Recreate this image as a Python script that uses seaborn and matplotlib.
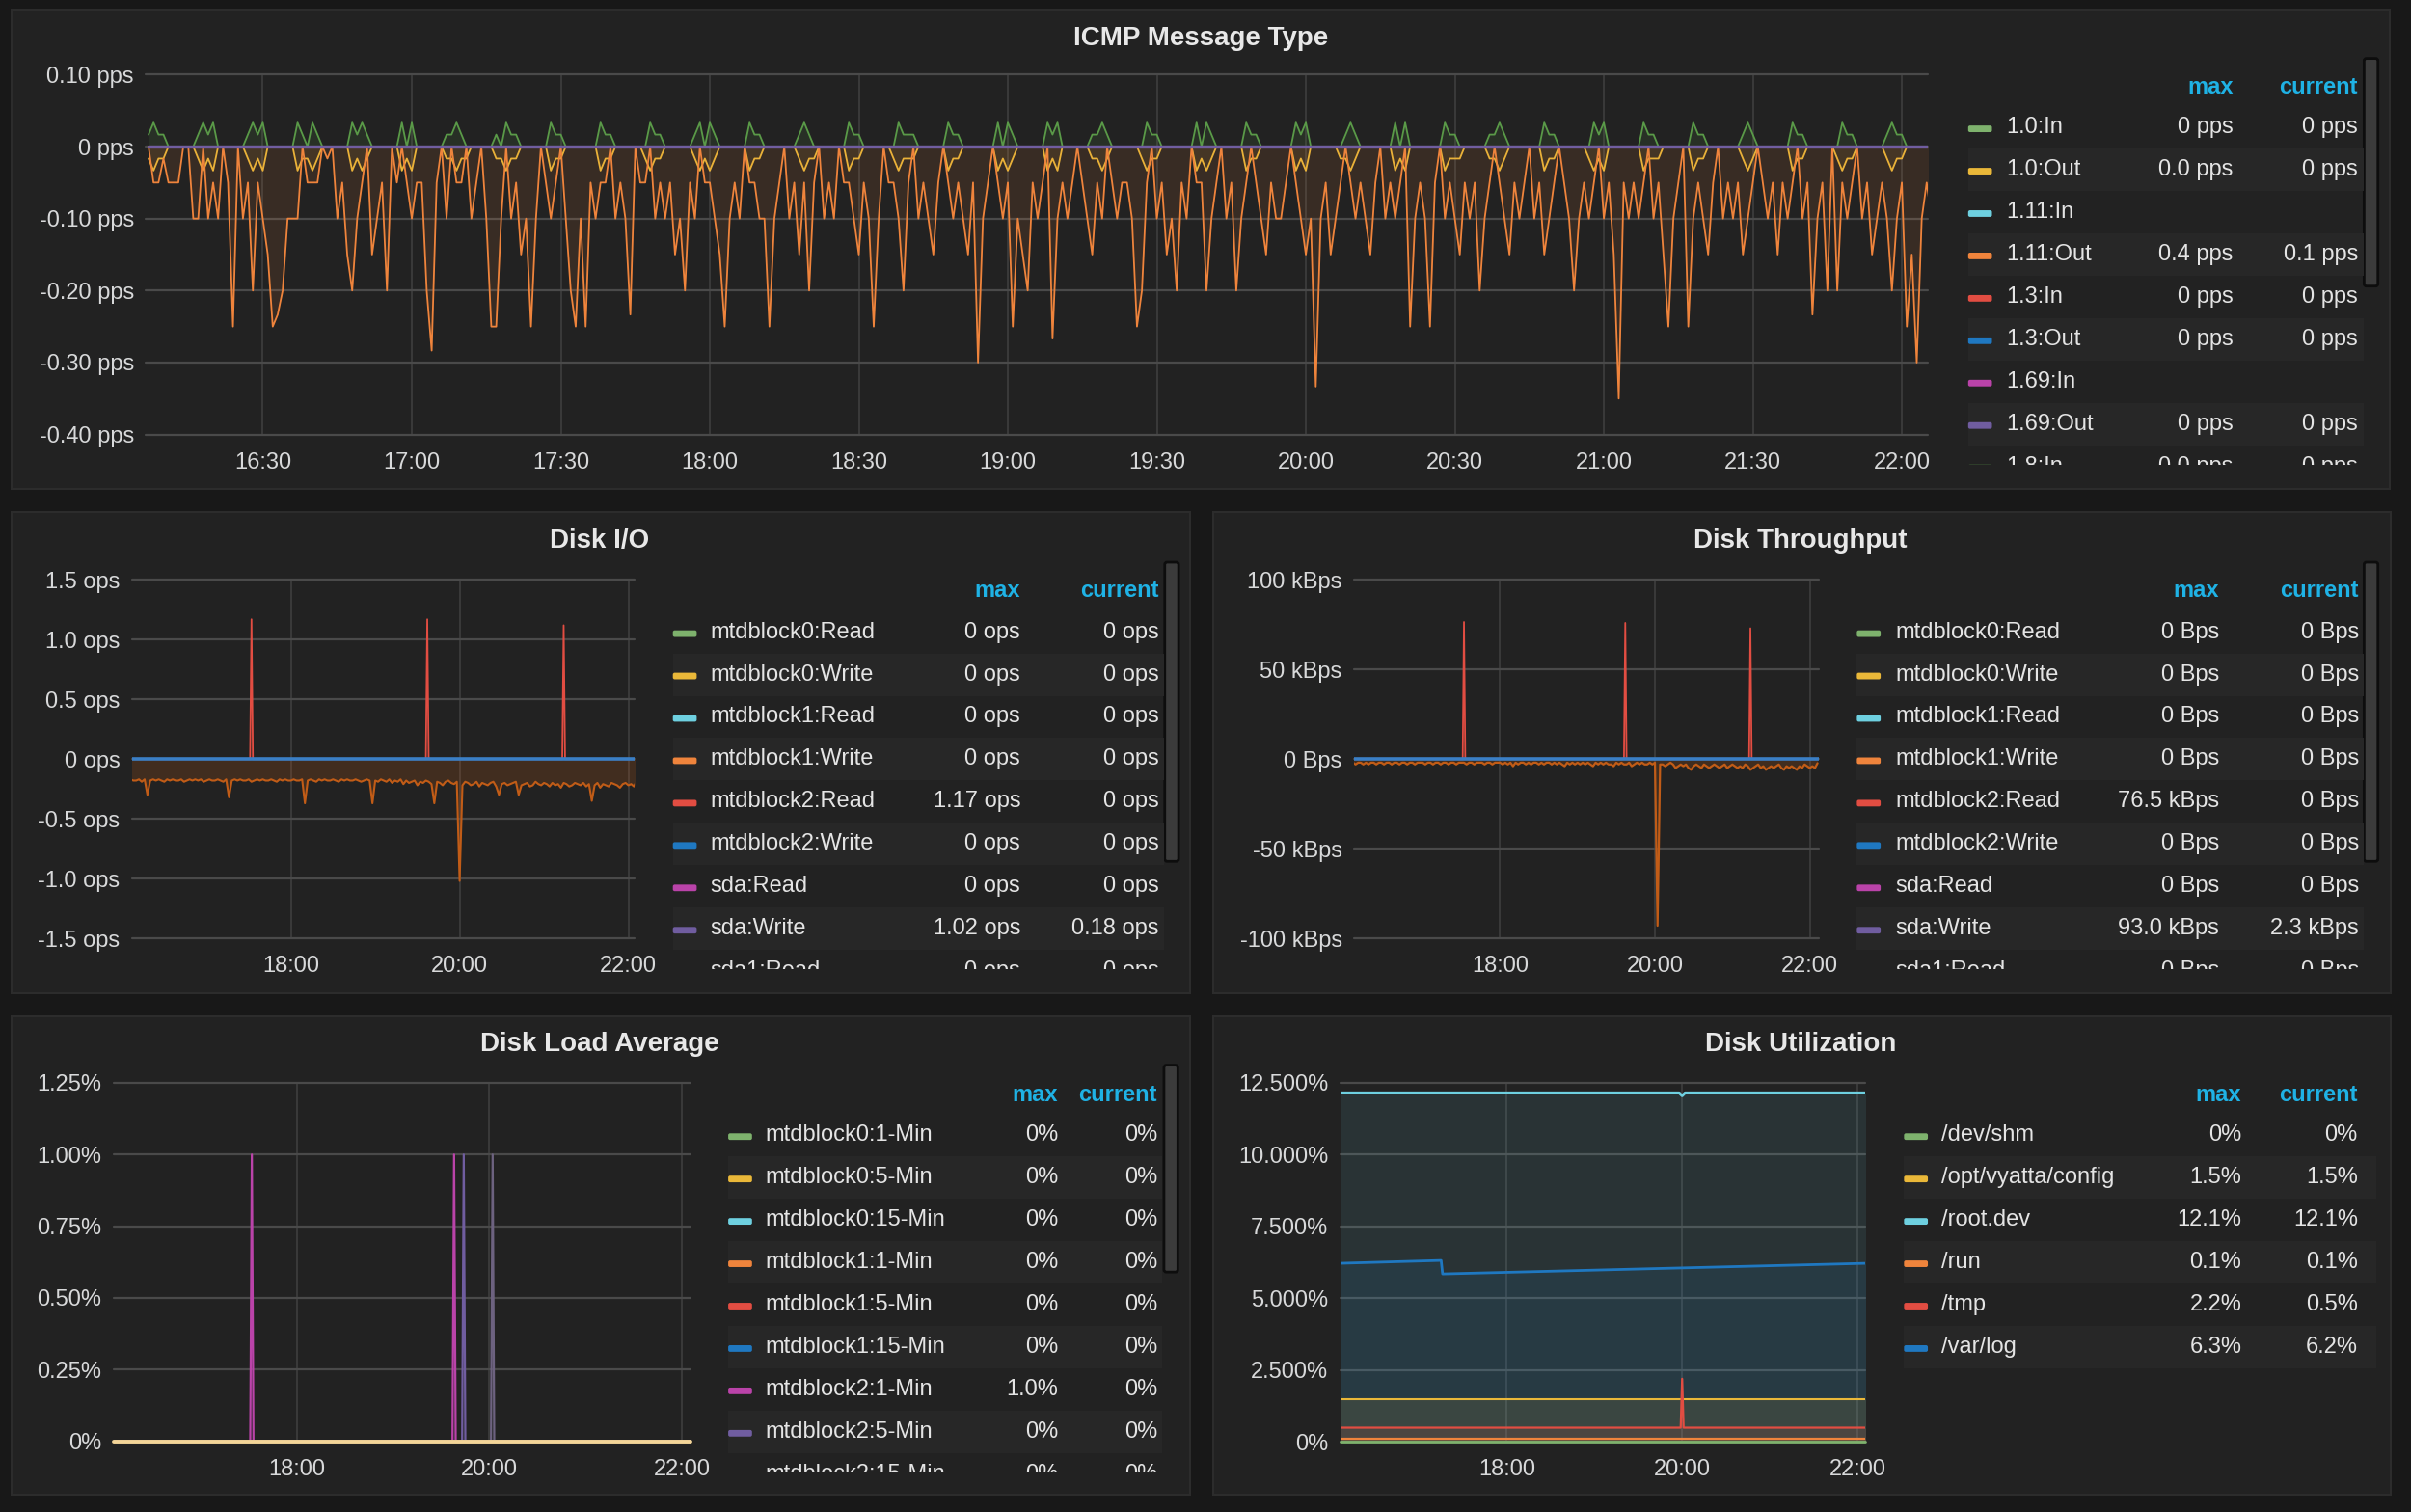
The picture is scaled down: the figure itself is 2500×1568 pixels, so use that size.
import numpy as np
import pandas as pd
import matplotlib
matplotlib.use("Agg")
import matplotlib.pyplot as plt
from matplotlib.patches import Rectangle, FancyBboxPatch
import seaborn as sns

# ---------------- data ----------------
# ICMP counts per minute, one sample a minute from 16:07 (pps = count / 60)
icmp_in_cpm = [
    1, 2, 1, 1, 0, 0, 0, 0, 0, 0, 1, 2, 1, 2, 0, 0, 0, 0, 0, 0, 1, 2, 1, 2, 0, 0, 0, 0, 0, 0,
    2, 1, 0, 2, 1, 0, 0, 0, 0, 0, 0, 2, 1, 2, 1, 0, 0, 0, 0, 0, 0, 2, 0, 2, 0, 0, 0, 0, 0, 0,
    1, 1, 2, 1, 0, 0, 0, 0, 0, 0, 1, 0, 2, 1, 1, 0, 0, 0, 0, 0, 0, 2, 1, 1, 0, 0, 0, 0, 0, 0,
    0, 2, 1, 1, 0, 0, 0, 0, 0, 0, 0, 2, 1, 1, 0, 0, 0, 0, 0, 0, 1, 2, 0, 2, 1, 0, 0, 0, 0, 0,
    0, 2, 1, 1, 0, 0, 0, 0, 0, 0, 0, 1, 2, 1, 0, 0, 0, 0, 0, 0, 0, 2, 1, 1, 0, 0, 0, 0, 0, 0,
    0, 2, 1, 1, 1, 0, 0, 0, 0, 0, 0, 2, 1, 1, 0, 0, 0, 0, 0, 0, 0, 2, 0, 2, 1, 0, 0, 0, 0, 0,
    0, 2, 1, 2, 0, 0, 0, 0, 0, 0, 1, 1, 2, 1, 0, 0, 0, 0, 0, 0, 0, 2, 1, 1, 0, 0, 0, 0, 0, 0,
    0, 2, 0, 2, 1, 0, 0, 0, 0, 0, 0, 2, 1, 1, 0, 0, 0, 0, 0, 0, 0, 2, 1, 2, 0, 0, 0, 0, 0, 0,
    0, 1, 2, 1, 0, 0, 0, 0, 0, 0, 0, 2, 0, 2, 0, 0, 0, 0, 0, 0, 0, 2, 1, 1, 0, 0, 0, 0, 0, 0,
    1, 1, 2, 1, 0, 0, 0, 0, 0, 0, 0, 2, 1, 1, 0, 0, 0, 0, 0, 0, 0, 2, 1, 2, 0, 0, 0, 0, 0, 0,
    0, 2, 1, 1, 0, 0, 0, 0, 0, 0, 0, 2, 1, 1, 0, 0, 0, 0, 0, 0, 0, 1, 2, 1, 0, 0, 0, 0, 0, 0,
    0, 2, 1, 1, 0, 0, 0, 0, 0, 0, 0, 2, 1, 1, 0, 0, 0, 0, 0, 0, 1, 2, 1, 1, 0, 0, 0, 0, 0, 0,
]
icmp_out10_cpm = [
    1, 2, 1, 1, 0, 0, 0, 0, 0, 0, 1, 2, 1, 2, 0, 0, 0, 0, 0, 0, 1, 2, 1, 2, 0, 0, 0, 0, 0, 0,
    2, 1, 1, 2, 1, 0, 0, 0, 0, 0, 0, 2, 1, 2, 1, 0, 0, 0, 0, 0, 0, 2, 1, 2, 0, 0, 0, 0, 0, 0,
    1, 1, 2, 1, 1, 0, 0, 0, 0, 0, 1, 1, 2, 1, 1, 0, 0, 0, 0, 0, 0, 2, 1, 1, 0, 0, 0, 0, 0, 0,
    0, 2, 1, 1, 0, 0, 0, 0, 0, 0, 1, 2, 1, 1, 0, 0, 0, 0, 0, 0, 1, 2, 1, 2, 1, 0, 0, 0, 0, 0,
    0, 2, 1, 1, 0, 0, 0, 0, 0, 0, 0, 1, 2, 1, 1, 0, 0, 0, 0, 0, 0, 2, 1, 1, 0, 0, 0, 0, 0, 0,
    1, 2, 1, 1, 1, 0, 0, 0, 0, 0, 0, 2, 1, 1, 0, 0, 0, 0, 0, 0, 0, 2, 1, 2, 1, 0, 0, 0, 0, 0,
    0, 2, 1, 2, 0, 0, 0, 0, 0, 0, 1, 1, 2, 1, 0, 0, 0, 0, 0, 0, 1, 2, 1, 1, 0, 0, 0, 0, 0, 0,
    0, 2, 1, 2, 1, 0, 0, 0, 0, 0, 0, 2, 1, 1, 0, 0, 0, 0, 0, 0, 0, 2, 1, 2, 0, 0, 0, 0, 0, 0,
    1, 1, 2, 1, 0, 0, 0, 0, 0, 0, 0, 2, 1, 2, 0, 0, 0, 0, 0, 0, 0, 2, 1, 1, 1, 0, 0, 0, 0, 0,
    1, 1, 2, 1, 0, 0, 0, 0, 0, 0, 0, 2, 1, 1, 0, 0, 0, 0, 0, 0, 1, 2, 1, 2, 0, 0, 0, 0, 0, 0,
    0, 2, 1, 1, 1, 0, 0, 0, 0, 0, 0, 2, 1, 1, 0, 0, 0, 0, 0, 0, 0, 1, 2, 1, 0, 0, 0, 0, 0, 0,
    0, 2, 1, 1, 0, 0, 0, 0, 0, 0, 1, 2, 1, 1, 0, 0, 0, 0, 0, 0, 1, 2, 1, 1, 0, 0, 0, 0, 0, 0,
]
icmp_out111_cpm = [
    0, 3, 3, 1, 3, 3, 3, 0, 0, 6, 6, 0, 6, 3, 6, 0, 3, 15, 0, 6, 3, 12, 3, 6, 9, 15, 14, 12, 6, 6,
    6, 0, 3, 3, 3, 0, 1, 0, 6, 3, 9, 12, 6, 3, 0, 9, 6, 3, 12, 0, 3, 0, 3, 6, 3, 3, 12, 17, 3, 0,
    6, 0, 3, 3, 0, 6, 3, 0, 6, 15, 15, 6, 0, 6, 3, 9, 6, 15, 6, 0, 3, 6, 3, 0, 6, 12, 15, 6, 15, 3,
    6, 3, 3, 0, 6, 3, 6, 14, 0, 3, 3, 0, 6, 3, 6, 3, 9, 6, 12, 3, 6, 0, 3, 3, 6, 9, 15, 6, 3, 6,
    0, 3, 3, 6, 6, 15, 6, 3, 0, 6, 3, 9, 3, 12, 3, 0, 6, 3, 6, 0, 3, 3, 6, 9, 3, 6, 15, 6, 0, 3,
    3, 6, 12, 3, 0, 6, 3, 6, 9, 3, 0, 3, 6, 3, 6, 9, 3, 18, 6, 3, 0, 3, 6, 3, 15, 6, 9, 12, 3, 6,
    3, 0, 16, 6, 3, 6, 3, 0, 3, 6, 9, 3, 6, 0, 3, 6, 3, 3, 6, 15, 12, 3, 0, 6, 3, 9, 6, 12, 3, 6,
    0, 3, 3, 12, 6, 3, 0, 6, 3, 12, 6, 3, 0, 3, 6, 9, 3, 6, 6, 3, 0, 3, 6, 9, 6, 20, 6, 3, 9, 6,
    3, 0, 3, 6, 3, 6, 9, 3, 0, 6, 3, 6, 3, 0, 15, 6, 3, 6, 15, 3, 0, 6, 3, 6, 9, 3, 6, 3, 12, 6,
    3, 0, 3, 6, 9, 3, 6, 3, 0, 6, 3, 9, 6, 3, 0, 3, 6, 12, 6, 3, 6, 3, 0, 6, 3, 9, 21, 3, 6, 3,
    6, 3, 0, 6, 3, 9, 15, 6, 3, 0, 15, 6, 3, 6, 9, 3, 0, 6, 3, 6, 3, 9, 6, 3, 0, 3, 6, 3, 9, 3,
    6, 3, 0, 6, 3, 14, 6, 3, 12, 0, 12, 3, 6, 3, 0, 6, 3, 9, 6, 3, 6, 12, 6, 3, 15, 9, 18, 6, 3, 6,
]

# Disk I/O, sda write in hundredths of ops, one sample every 2 min from 16:06
io_write_cops = [
    17, 18, 18, 17, 19, 17, 30, 18, 17, 18, 17, 18, 19, 17, 18, 17, 18, 18, 17, 19, 18, 17, 18, 17, 18, 17, 19, 18, 17, 18,
    18, 17, 18, 19, 17, 32, 18, 17, 18, 17, 18, 18, 17, 19, 18, 17, 18, 17, 18, 18, 17, 18, 19, 17, 18, 17, 18, 18, 17, 18,
    18, 17, 37, 18, 17, 18, 19, 17, 18, 17, 18, 18, 17, 18, 19, 17, 18, 17, 18, 18, 17, 18, 19, 18, 17, 18, 37, 18, 19, 17,
    18, 19, 17, 20, 18, 19, 17, 21, 18, 20, 19, 18, 22, 19, 20, 18, 19, 21, 37, 19, 20, 22, 19, 18, 20, 21, 19, 102, 22, 19,
    20, 22, 21, 19, 23, 20, 21, 22, 20, 19, 23, 30, 21, 20, 22, 21, 20, 19, 30, 22, 21, 20, 23, 22, 19, 21, 22, 20, 21, 23,
    20, 22, 21, 24, 20, 21, 23, 22, 20, 21, 22, 20, 23, 21, 35, 22, 20, 24, 21, 22, 23, 20, 21, 22, 24, 21, 20, 22, 21, 23,
    18,
]
# Disk throughput, sda write in kBps, every 2 min from 16:06
tp_write_kbps = [
    2, 3, 2, 2, 3, 2, 3, 2, 2, 3, 2, 2, 3, 2, 2, 3, 2, 2, 3, 2, 2, 3, 2, 2, 3, 2, 2, 2, 3, 2,
    2, 3, 2, 2, 3, 2, 2, 3, 2, 2, 3, 2, 2, 2, 3, 2, 2, 3, 2, 2, 2, 3, 2, 2, 3, 2, 2, 2, 3, 2,
    3, 2, 4, 2, 3, 2, 2, 3, 2, 3, 2, 2, 3, 2, 3, 2, 2, 3, 2, 3, 2, 3, 4, 2, 3, 2, 3, 2, 3, 2,
    3, 2, 3, 4, 2, 3, 2, 3, 2, 3, 3, 4, 2, 3, 2, 3, 3, 2, 4, 3, 2, 3, 2, 3, 3, 2, 3, 2, 93, 3,
    3, 4, 3, 2, 3, 5, 4, 3, 4, 3, 5, 6, 4, 3, 4, 5, 3, 4, 5, 4, 3, 4, 5, 4, 3, 5, 4, 3, 4, 5,
    4, 5, 3, 4, 6, 5, 4, 3, 5, 4, 6, 5, 4, 5, 4, 3, 5, 6, 4, 5, 4, 5, 6, 4, 5, 3, 4, 5, 4, 5,
    2.3,
]

# sparse spike series (minutes after 16:00)
read_spike_min = [6, 91, 92, 93, 216, 217, 218, 313, 314, 315, 366]
io_read_ops = [0, 0, 1.17, 0, 0, 1.17, 0, 0, 1.12, 0, 0]
tp_read_kbps = [0, 0, 76.5, 0, 0, 76.0, 0, 0, 73.0, 0, 0]

load_1min_min = [5, 91, 92, 93, 217, 218, 219, 366]
load_1min_pct = [0, 0, 1.0, 0, 0, 1.0, 0, 0]
load_5min_min = [5, 223, 224, 225, 366]
load_5min_pct = [0, 0, 1.0, 0, 0]
load_15min_min = [5, 241, 242, 243, 366]
load_15min_pct = [0, 0, 1.0, 0, 0]

util_root_min = [6, 238, 240, 242, 366]
util_root_pct = [12.15, 12.15, 12.05, 12.15, 12.15]
util_varlog_min = [6, 75, 76, 366]
util_varlog_pct = [6.22, 6.32, 5.85, 6.22]
util_config_min = [6, 366]
util_config_pct = [1.5, 1.5]
util_tmp_min = [6, 239, 240, 241, 366]
util_tmp_pct = [0.5, 0.5, 2.2, 0.5, 0.5]
util_run_min = [6, 366]
util_run_pct = [0.1, 0.1]
util_shm_min = [6, 366]
util_shm_pct = [0.0, 0.0]

# legends
icmp_names = ["1.0:In", "1.0:Out", "1.11:In", "1.11:Out", "1.3:In", "1.3:Out", "1.69:In", "1.69:Out", "1.8:In"]
icmp_max = ["0 pps", "0.0 pps", "", "0.4 pps", "0 pps", "0 pps", "", "0 pps", "0.0 pps"]
icmp_cur = ["0 pps", "0 pps", "", "0.1 pps", "0 pps", "0 pps", "", "0 pps", "0 pps"]

disk_names = ["mtdblock0:Read", "mtdblock0:Write", "mtdblock1:Read", "mtdblock1:Write", "mtdblock2:Read",
              "mtdblock2:Write", "sda:Read", "sda:Write", "sda1:Read"]
io_max = ["0 ops", "0 ops", "0 ops", "0 ops", "1.17 ops", "0 ops", "0 ops", "1.02 ops", "0 ops"]
io_cur = ["0 ops", "0 ops", "0 ops", "0 ops", "0 ops", "0 ops", "0 ops", "0.18 ops", "0 ops"]
tp_max = ["0 Bps", "0 Bps", "0 Bps", "0 Bps", "76.5 kBps", "0 Bps", "0 Bps", "93.0 kBps", "0 Bps"]
tp_cur = ["0 Bps", "0 Bps", "0 Bps", "0 Bps", "0 Bps", "0 Bps", "0 Bps", "2.3 kBps", "0 Bps"]

load_names = ["mtdblock0:1-Min", "mtdblock0:5-Min", "mtdblock0:15-Min", "mtdblock1:1-Min", "mtdblock1:5-Min",
              "mtdblock1:15-Min", "mtdblock2:1-Min", "mtdblock2:5-Min", "mtdblock2:15-Min"]
load_max = ["0%", "0%", "0%", "0%", "0%", "0%", "1.0%", "0%", "0%"]
load_cur = ["0%"] * 9

util_names = ["/dev/shm", "/opt/vyatta/config", "/root.dev", "/run", "/tmp", "/var/log"]
util_max = ["0%", "1.5%", "12.1%", "0.1%", "2.2%", "6.3%"]
util_cur = ["0%", "1.5%", "12.1%", "0.1%", "0.5%", "6.2%"]

palette = ["#7EB26D", "#EAB839", "#6ED0E0", "#EF843C", "#E24D42", "#1F78C1", "#BA43A9", "#705DA0", "#508642"]

icmp_xticks = [30, 60, 90, 120, 150, 180, 210, 240, 270, 300, 330, 360]
icmp_xlabels = ["16:30", "17:00", "17:30", "18:00", "18:30", "19:00", "19:30", "20:00", "20:30", "21:00", "21:30", "22:00"]
wide_xticks = [120, 240, 360]
wide_xlabels = ["18:00", "20:00", "22:00"]

# ---------------- styling ----------------
OUTER = "#181818"
PANEL = "#222222"
BORDER = "#2c2c2c"
STRIPE = "#272727"
TICK = "#d8d9da"
LEGTXT = "#e4e4e4"
HEAD = "#1fb2e5"
FS = 17

sns.set_theme(style="dark")
plt.rcParams["font.family"] = ["Liberation Sans", "DejaVu Sans"]

W, H = 1568, 983
ROW = 27.55


def frac(x0, y0, x1, y1):
    return [x0 / W, 1 - y1 / H, (x1 - x0) / W, (y1 - y0) / H]


fig = plt.figure(figsize=(25, 15.68), dpi=100, facecolor=OUTER)
bg = fig.add_axes([0, 0, 1, 1], zorder=-5)
bg.set_xlim(0, W)
bg.set_ylim(H, 0)
bg.axis("off")

panels = [
    (7.5, 6, 1554.5, 318, "ICMP Message Type", 781, 25),
    (7.5, 333, 774, 645.5, "Disk I/O", 390, 352),
    (789, 333, 1555, 645.5, "Disk Throughput", 1171, 352),
    (7.5, 660.5, 774, 972, "Disk Load Average", 390, 679),
    (789, 660.5, 1555, 972, "Disk Utilization", 1171, 679),
]
for x0, y0, x1, y1, title, tx, ty in panels:
    bg.add_patch(Rectangle((x0, y0), x1 - x0, y1 - y0, fc=PANEL, ec=BORDER, lw=1.5))
    bg.text(tx, ty, title, ha="center", va="center", fontsize=20, fontweight="bold", color="#e8e8e8")

# scrollbars
for sx, sy0, sy1 in [(1537.5, 38, 186), (757.5, 365.5, 560), (1537.5, 365.5, 560), (757, 692.5, 827)]:
    bg.add_patch(FancyBboxPatch((sx, sy0), 9, sy1 - sy0, boxstyle="round,pad=0,rounding_size=1.5",
                                fc="#3b3b3b", ec="#0d0d0d", lw=2))


def style_axes(ax, xlim, ylim, yticks, ylabels, xticks, xlabels):
    ax.set_facecolor("none")
    ax.set_xlim(*xlim)
    ax.set_ylim(*ylim)
    ax.set_yticks(yticks)
    ax.set_yticklabels(ylabels)
    ax.set_xticks(xticks)
    ax.set_xticklabels(xlabels)
    ax.grid(True, axis="y", color="#4a4a4a", lw=1.6)
    ax.grid(True, axis="x", color="#3e3e3e", lw=1.2)
    for s in ax.spines.values():
        s.set_visible(False)
    ax.tick_params(axis="both", length=0, labelsize=FS, labelcolor=TICK)
    ax.tick_params(axis="x", pad=13)
    ax.tick_params(axis="y", pad=9)
    ax.set_xlabel("")
    ax.set_ylabel("")
    for gl in ax.get_ygridlines() + ax.get_xgridlines():
        gl.set_clip_on(False)
    ax.set_axisbelow(True)


def line(ax, x, y, color, lw=1.3, fill=None, z=3, clip=True):
    sns.lineplot(x=x, y=y, ax=ax, color=color, lw=lw, estimator=None, sort=False,
                 errorbar=None, legend=False, zorder=z, clip_on=clip)
    if fill:
        ax.fill_between(x, 0, y, color=color, alpha=fill, lw=0, zorder=z - 1)


def legend(box, sw_x, name_x, max_x, cur_x, head_y, row0, names, maxs, curs, colors, stripe_x1):
    ax = fig.add_axes(frac(*box))
    ax.set_xlim(box[0], box[2])
    ax.set_ylim(box[3], box[1])
    ax.axis("off")
    kw = dict(va="center", fontsize=FS, clip_on=True)
    ax.text(max_x, head_y, "max", ha="right", color=HEAD, fontweight="bold", **kw)
    ax.text(cur_x, head_y, "current", ha="right", color=HEAD, fontweight="bold", **kw)
    for i, (n, m, c, col) in enumerate(zip(names, maxs, curs, colors)):
        y = row0 + ROW * i
        if i % 2 == 1:
            ax.add_patch(Rectangle((sw_x, y - ROW / 2), stripe_x1 - sw_x, ROW, fc=STRIPE, ec="none"))
        ax.add_patch(FancyBboxPatch((sw_x, y - 1.2), 15.5, 4.3, boxstyle="round,pad=0,rounding_size=1.2",
                                    fc=col, ec="none"))
        ax.text(name_x, y, n, ha="left", color=LEGTXT, **kw)
        ax.text(max_x, y, m, ha="right", color=LEGTXT, **kw)
        ax.text(cur_x, y, c, ha="right", color=LEGTXT, **kw)


# ---------------- ICMP ----------------
ax1 = fig.add_axes(frac(95, 48.5, 1254, 282.5))
t1 = 7 + np.arange(len(icmp_in_cpm))
in_pps = np.array(icmp_in_cpm) / 60
out10_pps = -np.array(icmp_out10_cpm) / 60
out111_pps = -np.array(icmp_out111_cpm) / 60
line(ax1, t1, in_pps, "#5a9a48", fill=0.12, z=4)
line(ax1, t1, out10_pps, "#EAB839", fill=0.08, z=5)
line(ax1, t1, out111_pps, "#EF843C", fill=0.11, z=6)
line(ax1, [7, 366], [0, 0], "#705DA0", lw=2.4, z=8)
style_axes(ax1, (6.5, 365.3), (-0.40, 0.10), [0.10, 0, -0.10, -0.20, -0.30, -0.40],
           ["0.10 pps", "0 pps", "-0.10 pps", "-0.20 pps", "-0.30 pps", "-0.40 pps"], icmp_xticks, icmp_xlabels)
legend((1275, 38, 1537, 302.2), 1280, 1305, 1452.5, 1533.5, 56.5, 82.8,
       icmp_names, icmp_max, icmp_cur, palette, 1537)

# ---------------- Disk I/O ----------------
ax2 = fig.add_axes(frac(86, 377, 412.5, 610))
t2 = 6 + 2 * np.arange(len(io_write_cops))
io_w = -np.array(io_write_cops) / 100
line(ax2, t2, io_w, "#C15C17", lw=1.5, fill=0.2, z=4)
line(ax2, read_spike_min, io_read_ops, "#E24D42", lw=1.3, z=5)
line(ax2, [6, 366], [0, 0], "#3a7fc6", lw=2.6, z=7)
style_axes(ax2, (7.2, 364.2), (-1.5, 1.5), [1.5, 1.0, 0.5, 0, -0.5, -1.0, -1.5],
           ["1.5 ops", "1.0 ops", "0.5 ops", "0 ops", "-0.5 ops", "-1.0 ops", "-1.5 ops"], wide_xticks, wide_xlabels)
legend((432, 366, 757, 630), 437.6, 461.8, 663.7, 753.7, 384, 411,
       disk_names, io_max, io_cur, palette, 757)

# ---------------- Disk Throughput ----------------
ax3 = fig.add_axes(frac(880.7, 377, 1182.7, 610))
t3 = 6 + 2 * np.arange(len(tp_write_kbps))
tp_w = -np.array(tp_write_kbps, dtype=float)
line(ax3, t3, tp_w, "#C15C17", lw=1.6, fill=0.2, z=4)
line(ax3, read_spike_min, tp_read_kbps, "#E24D42", lw=1.3, z=5)
line(ax3, [6, 367], [0, 0], "#3a7fc6", lw=2.6, z=7)
style_axes(ax3, (6.9, 366.8), (-100, 100), [100, 50, 0, -50, -100],
           ["100 kBps", "50 kBps", "0 Bps", "-50 kBps", "-100 kBps"], wide_xticks, wide_xlabels)
legend((1202, 366, 1537, 630), 1207.6, 1232.7, 1443.4, 1534, 384, 411,
       disk_names, tp_max, tp_cur, palette, 1537)

# ---------------- Disk Load Average ----------------
ax4 = fig.add_axes(frac(74, 704, 449, 937))
line(ax4, load_1min_min, load_1min_pct, "#BA43A9", lw=1.6, z=4)
line(ax4, load_5min_min, load_5min_pct, "#705DA0", lw=1.6, z=4)
line(ax4, load_15min_min, load_15min_pct, "#6d6280", lw=1.6, z=4)
line(ax4, [6, 365.2], [0, 0], "#F4D598", lw=2.8, z=6, clip=False)
style_axes(ax4, (6.0, 365.2), (0, 1.25), [1.25, 1.0, 0.75, 0.5, 0.25, 0],
           ["1.25%", "1.00%", "0.75%", "0.50%", "0.25%", "0%"], wide_xticks, wide_xlabels)
legend((469, 693, 756.5, 957), 473.6, 497.8, 688, 752.7, 711.6, 738,
       load_names, load_max, load_cur, palette, 756)

# ---------------- Disk Utilization ----------------
ax5 = fig.add_axes(frac(871.7, 704, 1213.3, 937.5))
line(ax5, util_root_min, util_root_pct, "#6ED0E0", lw=2.2, fill=0.1, z=4)
line(ax5, util_varlog_min, util_varlog_pct, "#1F78C1", lw=2.0, fill=0.1, z=5)
line(ax5, util_config_min, util_config_pct, "#EAB839", lw=1.5, fill=0.1, z=6)
line(ax5, util_tmp_min, util_tmp_pct, "#E24D42", lw=1.6, fill=0.1, z=7)
line(ax5, util_run_min, util_run_pct, "#EF843C", lw=1.6, fill=0.1, z=8)
line(ax5, [6, 365.6], util_shm_pct, "#7EB26D", lw=2.0, z=9, clip=False)
style_axes(ax5, (6.0, 365.6), (0, 12.5), [12.5, 10, 7.5, 5, 2.5, 0],
           ["12.500%", "10.000%", "7.500%", "5.000%", "2.500%", "0%"], wide_xticks, wide_xlabels)
legend((1234, 693, 1546, 958.5), 1238.3, 1262.8, 1457.8, 1533.4, 711.6, 738,
       util_names, util_max, util_cur, palette, 1545.7)

fig.savefig("out.png", dpi=100, facecolor=fig.get_facecolor())
